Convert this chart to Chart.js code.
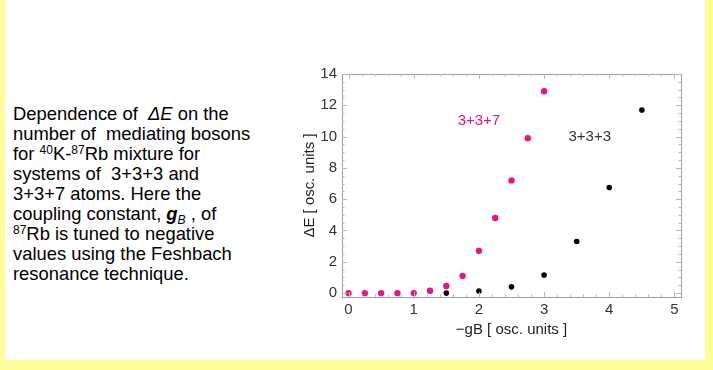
<!DOCTYPE html>
<html>
<head>
<meta charset="utf-8">
<script src="https://cdn.jsdelivr.net/npm/chart.js@4"></script>
<style>
    body { margin: 0; width: 713px; height: 370px; background: #ffff99; position: relative; overflow: hidden; font-family: "Liberation Sans", Arial, sans-serif; }
    #panel { position: absolute; left: 5px; top: 0; width: 700px; height: 360px; background: #fff; }
    #caption { position: absolute; left: 13px; top: 104px; font-size: 18.4px; line-height: 20px; color: #000; white-space: nowrap; }
    #caption sup { font-size: 12px; vertical-align: 6px; line-height: 0; }
    #caption sub { font-size: 12px; vertical-align: -4px; line-height: 0; }
    #chartBox { position: absolute; left: 300px; top: 60px; width: 400px; height: 290px; }
</style>
</head>
<body>
<div id="panel"></div>
<div id="caption">
    Dependence of &nbsp;<i>ΔE</i> on the<br>
    number of &nbsp;mediating bosons<br>
    for <sup>40</sup>K-<sup>87</sup>Rb mixture for<br>
    systems of &nbsp;3+3+3 and<br>
    3+3+7 atoms. Here the<br>
    coupling constant, <i><b>g</b><sub>B</sub></i> , of<br>
    <sup>87</sup>Rb is tuned to negative<br>
    values using the Feshbach<br>
    resonance technique.
</div>
<div id="chartBox"><canvas id="deltaChart"></canvas></div>

<script>
// 3+3+7 system
const gB337 = [0, 0.25, 0.5, 0.75, 1, 1.25, 1.5, 1.75, 2, 2.25, 2.5, 2.75, 3];
const dE337 = [0, 0, 0, 0, 0, 0.15, 0.45, 1.1, 2.7, 4.8, 7.2, 9.9, 12.9];
// 3+3+3 system
const gB333 = [1.5, 2, 2.5, 3, 3.5, 4, 4.5];
const dE333 = [0, 0.13, 0.4, 1.15, 3.3, 6.75, 11.7];

const xTicks = [0, 1, 2, 3, 4, 5];
const yTicks = [0, 2, 4, 6, 8, 10, 12, 14];

// in-plot labels for the two series
const seriesLabels = [
    { text: '3+3+7', x: 2.0, y: 11, color: '#e4158a' },
    { text: '3+3+3', x: 3.7, y: 10, color: '#333333' }
];

function toPoints(xs, ys) {
    return xs.map((x, i) => ({ x: x, y: ys[i] }));
}

// frame round the plot with small inward ticks
const framePlugin = {
    id: 'frame',
    afterDraw(chart) {
        const ctx = chart.ctx;
        const a = chart.chartArea;
        const xs = chart.scales.x, ys = chart.scales.y;
        ctx.save();
        ctx.strokeStyle = '#a0a0a0';
        ctx.lineWidth = 1;
        ctx.strokeRect(a.left + 0.5, a.top + 0.5, a.right - a.left, a.bottom - a.top);

        ctx.strokeStyle = '#b8b8b8';
        ctx.beginPath();
        for (let v = 0; v <= 5.0001; v += 0.2) {
            const px = Math.round(xs.getPixelForValue(v)) + 0.5;
            const len = Math.abs(v - Math.round(v)) < 0.01 ? 5 : 2.5;
            ctx.moveTo(px, a.bottom); ctx.lineTo(px, a.bottom - len);
            ctx.moveTo(px, a.top); ctx.lineTo(px, a.top + len);
        }
        for (let v = 0; v <= 14.0001; v += 0.5) {
            const py = Math.round(ys.getPixelForValue(v)) + 0.5;
            const len = Math.abs(v / 2 - Math.round(v / 2)) < 0.01 ? 5 : 2.5;
            ctx.moveTo(a.left, py); ctx.lineTo(a.left + len, py);
            ctx.moveTo(a.right, py); ctx.lineTo(a.right - len, py);
        }
        ctx.stroke();

        ctx.font = '15px "Liberation Sans", Arial, sans-serif';
        ctx.textAlign = 'center';
        ctx.textBaseline = 'middle';
        seriesLabels.forEach(l => {
            ctx.fillStyle = l.color;
            ctx.fillText(l.text, xs.getPixelForValue(l.x), ys.getPixelForValue(l.y));
        });
        ctx.restore();
    }
};

const axisFont = { family: '"Liberation Sans", Arial, sans-serif', size: 15 };

new Chart(document.getElementById('deltaChart'), {
    type: 'scatter',
    data: {
        datasets: [
            {
                label: '3+3+7',
                data: toPoints(gB337, dE337),
                backgroundColor: '#e4158a',
                borderColor: '#e4158a',
                pointRadius: 3.2,
                borderWidth: 0
            },
            {
                label: '3+3+3',
                data: toPoints(gB333, dE333),
                backgroundColor: '#000000',
                borderColor: '#000000',
                pointRadius: 2.8,
                borderWidth: 0
            }
        ]
    },
    options: {
        responsive: true,
        maintainAspectRatio: false,
        animation: false,
        layout: { padding: { top: 14, right: 19, bottom: 8, left: 0 } },
        plugins: {
            legend: { display: false },
            tooltip: { enabled: false }
        },
        scales: {
            x: {
                type: 'linear',
                min: -0.1,
                max: 5.1,
                afterBuildTicks: scale => { scale.ticks = xTicks.map(v => ({ value: v })); },
                afterFit: scale => { scale.height = 45; },
                grid: { display: false, drawTicks: false },
                border: { display: false },
                ticks: { color: '#333', font: axisFont, padding: 4 },
                title: {
                    display: true,
                    text: '\u2212gB [ osc. units ]',
                    color: '#222',
                    font: axisFont,
                    padding: { top: 0, bottom: 3 }
                }
            },
            y: {
                type: 'linear',
                min: -0.25,
                max: 14,
                afterBuildTicks: scale => { scale.ticks = yTicks.map(v => ({ value: v })); },
                afterFit: scale => { scale.width = 42; },
                grid: { display: false, drawTicks: false },
                border: { display: false },
                ticks: { color: '#333', font: axisFont, padding: 5 },
                title: {
                    display: true,
                    text: '\u0394E [ osc. units ]',
                    color: '#222',
                    font: axisFont,
                    padding: { top: 1, bottom: 0 }
                }
            }
        }
    },
    plugins: [framePlugin]
});
</script>
</body>
</html>
